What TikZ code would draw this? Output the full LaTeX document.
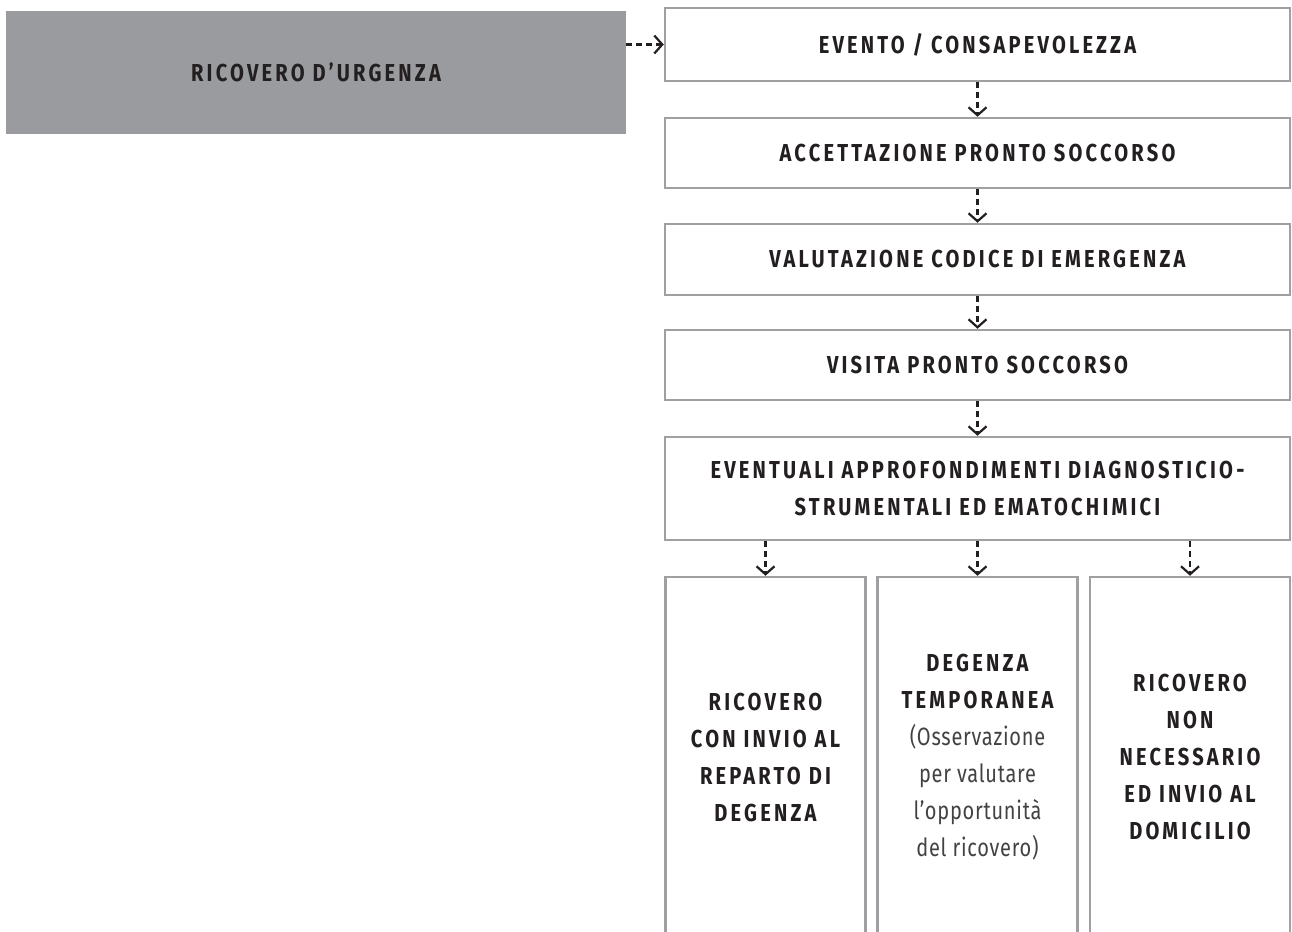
\documentclass[tikz,border=0pt]{standalone}
\usepackage{fontspec}
\setmainfont{Fira Sans}
\newfontfamily\headfont[FakeStretch=0.82,LetterSpace=13]{Fira Sans}
\newfontfamily\notefont[FakeStretch=0.8,LetterSpace=3]{Fira Sans}
\usetikzlibrary{arrows.meta}

\definecolor{inkblack}{HTML}{231F20}
\definecolor{boxgray}{HTML}{A0A0A2}
\definecolor{fillgray}{HTML}{9A9B9F}

\newcommand{\noteline}[1]{{\notefont\mdseries\fontsize{25}{37}\selectfont\color{inkblack!85}#1}}

\tikzset{
  stepbox/.style={draw=boxgray, line width=2.5pt, fill=white, minimum width=625pt,
    inner sep=0pt, align=center, text=inkblack,
    font=\headfont\bfseries\fontsize{24.5}{37}\selectfont},
  greybox/.style={fill=fillgray, minimum width=620pt, minimum height=123pt,
    inner sep=0pt, text=inkblack, font=\headfont\bfseries\fontsize{24.5}{37}\selectfont},
  colbox/.style={draw=boxgray, line width=2.5pt, fill=white, minimum width=200pt,
    minimum height=360pt, inner sep=0pt, align=center, text=inkblack,
    font=\headfont\bfseries\fontsize{24.5}{37}\selectfont},
  dasharrow/.style={draw=inkblack, line width=2.2pt, dash pattern=on 6pt off 4pt,
    -{Straight Barb[length=8pt,width=18pt,line width=2.2pt]}}
}

\begin{document}
\begin{tikzpicture}[x=1pt,y=-1pt]
\useasboundingbox (0,0) rectangle (1292,931);

% Ricovero d'urgenza
\node[greybox] (urgenza) at (316,72.5) {RICOVERO D’URGENZA};

% percorso in pronto soccorso
\node[stepbox, minimum height=73pt] (evento) at (977.5,44.5) {EVENTO / CONSAPEVOLEZZA};
\node[stepbox, minimum height=70pt] (accett) at (977.5,153) {ACCETTAZIONE PRONTO SOCCORSO};
\node[stepbox, minimum height=71pt] (codice) at (977.5,259.5) {VALUTAZIONE CODICE DI EMERGENZA};
\node[stepbox, minimum height=70pt] (visita) at (977.5,365) {VISITA PRONTO SOCCORSO};
\node[stepbox, minimum height=103pt] (esami) at (977.5,488.5) {EVENTUALI APPROFONDIMENTI DIAGNOSTICIO-\\STRUMENTALI ED EMATOCHIMICI};

% esiti
\node[colbox] (reparto) at (765.5,757) {RICOVERO\\CON INVIO AL\\REPARTO DI\\DEGENZA};
\node[colbox] (tempor) at (977.5,757) {DEGENZA\\TEMPORANEA\\\noteline{(Osservazione}\\\noteline{per valutare}\\\noteline{l’opportunità}\\\noteline{del ricovero)}};
\node[colbox] (domicilio) at (1190,757) {RICOVERO\\NON\\NECESSARIO\\ED INVIO AL\\DOMICILIO};

% frecce
\draw[dasharrow] (urgenza.east |- evento.west) -- (evento.west);
\draw[dasharrow] (evento) -- (accett);
\draw[dasharrow] (accett) -- (codice);
\draw[dasharrow] (codice) -- (visita);
\draw[dasharrow] (visita) -- (esami);
\draw[dasharrow] (esami.south -| reparto.north) -- (reparto.north);
\draw[dasharrow] (esami.south -| tempor.north) -- (tempor.north);
\draw[dasharrow] (esami.south -| domicilio.north) -- (domicilio.north);

\end{tikzpicture}
\end{document}
